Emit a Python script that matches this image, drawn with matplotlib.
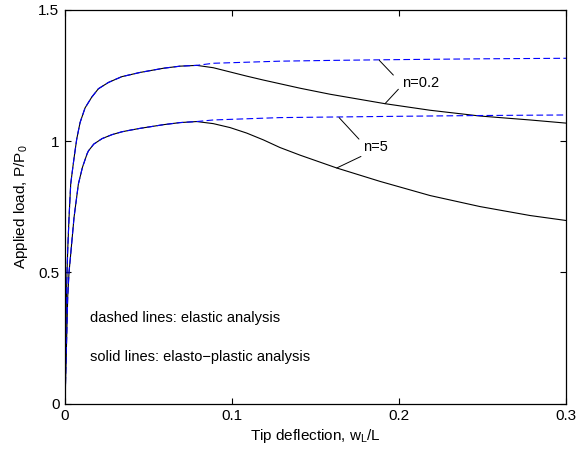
import numpy as np
import matplotlib
matplotlib.use('Agg')
import matplotlib.pyplot as plt

plt.rcParams['font.family'] = ['Liberation Sans', 'DejaVu Sans']
plt.rcParams['mathtext.default'] = 'regular'
plt.rcParams['font.size'] = 10.5

# loading branch shared by elastic and elasto-plastic runs (n = 0.2)
x_rise_a = [0, 0.0008, 0.0012, 0.0016, 0.0024, 0.0034, 0.0048, 0.0056, 0.0070,
            0.0090, 0.0120, 0.0160, 0.0200, 0.0260, 0.0340, 0.0449, 0.0589, 0.0689, 0.0789]
p_rise_a = [0, 0.406, 0.501, 0.584, 0.710, 0.837, 0.907, 0.945, 1.008,
            1.071, 1.127, 1.168, 1.200, 1.224, 1.246, 1.262, 1.278, 1.286, 1.289]
x_el_a = [0.0888, 0.1287, 0.16, 0.2, 0.25, 0.3]
p_el_a = [1.297, 1.305, 1.308, 1.311, 1.314, 1.316]
x_pl_a = [0.0888, 0.0988, 0.1088, 0.1188, 0.1287, 0.1407, 0.1587, 0.1916, 0.2186,
          0.2485, 0.2784, 0.3]
p_pl_a = [1.280, 1.264, 1.248, 1.233, 1.219, 1.202, 1.179, 1.143, 1.118,
          1.096, 1.081, 1.069]

# n = 5
x_rise_b = [0, 0.0016, 0.0024, 0.0036, 0.0054, 0.0080, 0.0104, 0.0132, 0.0140,
            0.0172, 0.0222, 0.0281, 0.0341, 0.0389, 0.0449, 0.0589, 0.0689, 0.0789]
p_rise_b = [0, 0.406, 0.501, 0.584, 0.710, 0.837, 0.900, 0.952, 0.963,
            0.989, 1.010, 1.025, 1.036, 1.042, 1.049, 1.063, 1.071, 1.075]
x_el_b = [0.0888, 0.1287, 0.2, 0.25, 0.3]
p_el_b = [1.081, 1.090, 1.095, 1.098, 1.100]
x_pl_b = [0.0888, 0.0988, 0.1088, 0.1188, 0.1287, 0.1407, 0.1627, 0.1886, 0.2186,
          0.2485, 0.2784, 0.3]
p_pl_b = [1.067, 1.052, 1.031, 1.005, 0.976, 0.947, 0.898, 0.847, 0.793,
          0.751, 0.717, 0.698]

xticks = [0, 0.1, 0.2, 0.3]
xticklabels = ['0', '0.1', '0.2', '0.3']
yticks = [0, 0.5, 1, 1.5]
yticklabels = ['0', '0.5', '1', '1.5']

fig = plt.figure(figsize=(5.77, 4.54), dpi=100)
ax = fig.add_axes([0.1127, 0.1108, 0.8683, 0.8672])

for xr, pr, xe, pe, xp, pp in [(x_rise_a, p_rise_a, x_el_a, p_el_a, x_pl_a, p_pl_a),
                               (x_rise_b, p_rise_b, x_el_b, p_el_b, x_pl_b, p_pl_b)]:
    ax.plot(xr + xp, pr + pp, 'k-', lw=0.8)
    ax.plot(xr + xe, pr + pe, color='b', lw=0.8, linestyle=(0, (6, 3)))

# curve labels with leader lines
ax.text(0.2016, 1.223, 'n=0.2', va='center', ha='left')
ax.text(0.1783, 0.979, 'n=5', va='center', ha='left')
leaders = [((0.1882, 1.308), (0.1966, 1.252)),
           ((0.1916, 1.143), (0.1996, 1.198)),
           ((0.1641, 1.090), (0.1760, 1.008)),
           ((0.1627, 0.898), (0.1772, 0.942))]
for p0, p1 in leaders:
    ax.annotate('', xy=p0, xytext=p1,
                arrowprops=dict(arrowstyle='-', lw=0.7, color='k', shrinkA=0, shrinkB=0))

ax.text(0.015, 0.328, 'dashed lines: elastic analysis', va='center', ha='left')
ax.text(0.015, 0.178, 'solid lines: elasto\u2212plastic analysis', va='center', ha='left')

ax.set_xlim(0, 0.3)
ax.set_ylim(0, 1.5)
ax.set_xticks(xticks)
ax.set_xticklabels(xticklabels)
ax.set_yticks(yticks)
ax.set_yticklabels(yticklabels)
ax.tick_params(direction='in', top=True, right=True, length=4, width=0.8, labelsize=11, pad=4)
for s in ax.spines.values():
    s.set_linewidth(0.9)

ax.set_xlabel('Tip deflection, w$_L$/L', fontsize=11, labelpad=3)
ax.set_ylabel('Applied load, P/P$_0$', fontsize=11, labelpad=6)

fig.savefig('out.png', dpi=100)
